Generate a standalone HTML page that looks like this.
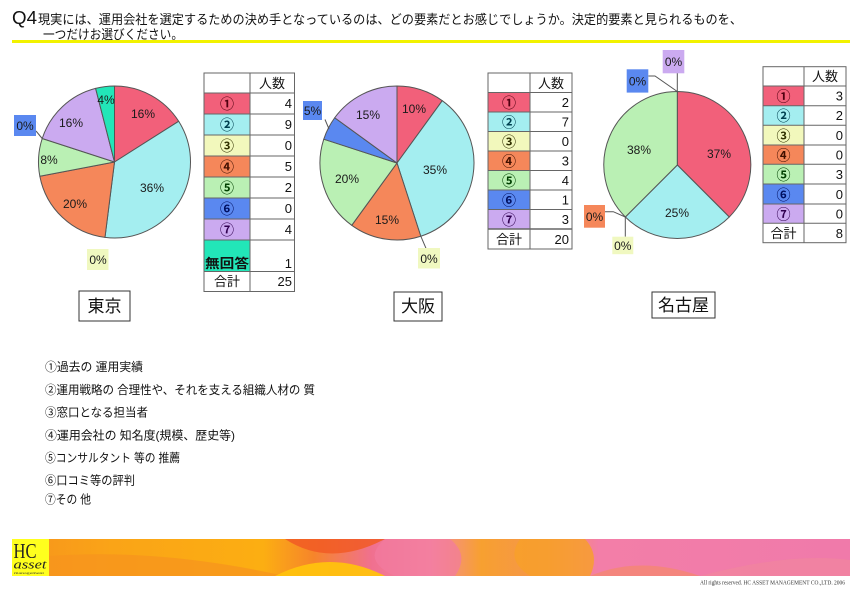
<!DOCTYPE html>
<html><head><meta charset="utf-8">
<style>
html,body{margin:0;padding:0;background:#fff;width:863px;height:598px;overflow:hidden;}
svg{display:block;}
text{font-family:"Liberation Sans","Noto Sans CJK JP",sans-serif;}
.jp{font-family:"Liberation Sans","Noto Sans CJK JP",sans-serif;}
.pct{font-size:12px;fill:#1a1a1a;text-anchor:middle;font-weight:500;}
.tb{font-size:13px;fill:#111;}
.num{font-size:13px;fill:#111;text-anchor:end;}
.cn{font-size:14px;text-anchor:middle;font-weight:bold;font-family:"Noto Sans CJK JP",sans-serif;}
.lg{font-size:12px;fill:#111;}
</style></head>
<body>
<svg width="863" height="598" viewBox="0 0 863 598" xmlns="http://www.w3.org/2000/svg">
<defs>
<linearGradient id="bn" x1="0" y1="0" x2="1" y2="0">
<stop offset="0" stop-color="#F7941D"/>
<stop offset="0.12" stop-color="#FAA417"/>
<stop offset="0.30" stop-color="#FCAE12"/>
<stop offset="0.36" stop-color="#F6852A"/>
<stop offset="0.43" stop-color="#F07090"/>
<stop offset="0.50" stop-color="#F48BA0"/>
<stop offset="0.56" stop-color="#F7A030"/>
<stop offset="0.64" stop-color="#F6944E"/>
<stop offset="0.70" stop-color="#F37EA8"/>
<stop offset="1" stop-color="#F07AAA"/>
</linearGradient>
</defs>

<!-- Title -->
<text x="12" y="24" style="font-size:18px;fill:#111;" textLength="25" lengthAdjust="spacingAndGlyphs">Q4</text>
<text x="38" y="24" class="jp" style="font-size:13px;fill:#111;" textLength="704" lengthAdjust="spacingAndGlyphs">現実には、運用会社を選定するための決め手となっているのは、どの要素だとお感じでしょうか。決定的要素と見られるものを、</text>
<text x="43" y="39" class="jp" style="font-size:13px;fill:#111;" textLength="140" lengthAdjust="spacingAndGlyphs">一つだけお選びください。</text>
<rect x="12" y="40" width="838" height="3" fill="#F2F200"/>

<!-- Tokyo pie -->
<g stroke="#555" stroke-width="1" stroke-linejoin="round">
<path d="M114.5,162 L114.5,86 A76,76 0 0 1 178.67,121.28 Z" fill="#F2607A"/>
<path d="M114.5,162 L178.67,121.28 A76,76 0 0 1 104.97,237.40 Z" fill="#A4EEF0"/>
<path d="M114.5,162 L104.97,237.40 A76,76 0 0 1 39.84,176.24 Z" fill="#F5875A"/>
<path d="M114.5,162 L39.84,176.24 A76,76 0 0 1 42.22,138.52 Z" fill="#BAF0B4"/>
<path d="M114.5,162 L42.22,138.52 A76,76 0 0 1 95.60,88.39 Z" fill="#CBAAF0"/>
<path d="M114.5,162 L95.60,88.39 A76,76 0 0 1 114.5,86 Z" fill="#22E6B8"/>
</g>
<text class="pct" x="143" y="118">16%</text>
<text class="pct" x="152" y="192">36%</text>
<text class="pct" x="75" y="208">20%</text>
<text class="pct" x="49" y="164">8%</text>
<text class="pct" x="71" y="127">16%</text>
<text class="pct" x="106" y="104">4%</text>
<line x1="36" y1="131" x2="42.2" y2="138.5" stroke="#555"/>
<rect x="14" y="115" width="22" height="21" fill="#5A88F0"/>
<text class="pct" x="25" y="130">0%</text>
<rect x="87" y="249" width="21.5" height="21" fill="#F0F8C0"/>
<text class="pct" x="98" y="264">0%</text>

<!-- Tokyo table -->
<g>
<rect x="204" y="93" width="46" height="21" fill="#F2607A"/>
<rect x="204" y="114" width="46" height="21" fill="#A4EEF0"/>
<rect x="204" y="135" width="46" height="21" fill="#F2F8BC"/>
<rect x="204" y="156" width="46" height="21" fill="#F5875A"/>
<rect x="204" y="177" width="46" height="21" fill="#BAF0B4"/>
<rect x="204" y="198" width="46" height="21" fill="#5A88F0"/>
<rect x="204" y="219" width="46" height="21" fill="#CBAAF0"/>
<rect x="204" y="240" width="46" height="31.5" fill="#22E6B8"/>
<g stroke="#666" stroke-width="1" fill="none">
<rect x="204" y="73" width="90.5" height="218.5"/>
<line x1="250" y1="73" x2="250" y2="291.5"/>
<line x1="204" y1="93" x2="294.5" y2="93"/>
<line x1="204" y1="114" x2="294.5" y2="114"/>
<line x1="204" y1="135" x2="294.5" y2="135"/>
<line x1="204" y1="156" x2="294.5" y2="156"/>
<line x1="204" y1="177" x2="294.5" y2="177"/>
<line x1="204" y1="198" x2="294.5" y2="198"/>
<line x1="204" y1="219" x2="294.5" y2="219"/>
<line x1="204" y1="240" x2="294.5" y2="240"/>
<line x1="204" y1="271.5" x2="294.5" y2="271.5"/>
</g>
<text class="tb" x="272" y="88" text-anchor="middle">人数</text>
<text class="cn" x="227" y="109" fill="#500010">①</text>
<text class="cn" x="227" y="130" fill="#004050">②</text>
<text class="cn" x="227" y="151" fill="#303000">③</text>
<text class="cn" x="227" y="172" fill="#401000">④</text>
<text class="cn" x="227" y="193" fill="#004000">⑤</text>
<text class="cn" x="227" y="214" fill="#001060">⑥</text>
<text class="cn" x="227" y="235" fill="#300050">⑦</text>
<text class="tb" x="227" y="268" fill="#005030" text-anchor="middle" font-weight="bold" textLength="44" lengthAdjust="spacingAndGlyphs">無回答</text>
<text class="tb" x="227" y="286" text-anchor="middle">合計</text>
<text class="num" x="292" y="108">4</text>
<text class="num" x="292" y="129">9</text>
<text class="num" x="292" y="150">0</text>
<text class="num" x="292" y="171">5</text>
<text class="num" x="292" y="192">2</text>
<text class="num" x="292" y="213">0</text>
<text class="num" x="292" y="234">4</text>
<text class="num" x="292" y="268">1</text>
<text class="num" x="292" y="286">25</text>
</g>
<rect x="79" y="291" width="51" height="30" fill="#fff" stroke="#333"/>
<text x="104.5" y="312" class="jp" style="font-size:17px;fill:#111;" text-anchor="middle">東京</text>

<!-- Osaka pie -->
<g stroke="#555" stroke-width="1" stroke-linejoin="round">
<path d="M397,163 L397,86 A77,77 0 0 1 442.26,100.71 Z" fill="#F2607A"/>
<path d="M397,163 L442.26,100.71 A77,77 0 0 1 420.79,236.23 Z" fill="#A4EEF0"/>
<path d="M397,163 L420.79,236.23 A77,77 0 0 1 351.74,225.29 Z" fill="#F5875A"/>
<path d="M397,163 L351.74,225.29 A77,77 0 0 1 323.77,139.21 Z" fill="#BAF0B4"/>
<path d="M397,163 L323.77,139.21 A77,77 0 0 1 334.71,117.74 Z" fill="#5A88F0"/>
<path d="M397,163 L334.71,117.74 A77,77 0 0 1 397,86 Z" fill="#CBAAF0"/>
</g>
<text class="pct" x="414" y="113">10%</text>
<text class="pct" x="435" y="174">35%</text>
<text class="pct" x="387" y="224">15%</text>
<text class="pct" x="347" y="183">20%</text>
<text class="pct" x="368" y="119">15%</text>
<line x1="325" y1="119.5" x2="329" y2="129" stroke="#555"/>
<rect x="303" y="101" width="19" height="19" fill="#5A88F0"/>
<text class="pct" x="312.5" y="115">5%</text>
<line x1="420.8" y1="236.2" x2="426" y2="248.3" stroke="#555"/>
<rect x="418" y="248" width="22" height="20.5" fill="#F0F8C0"/>
<text class="pct" x="429" y="263">0%</text>

<!-- Osaka table -->
<g>
<rect x="488" y="92.5" width="42" height="19.5" fill="#F2607A"/>
<rect x="488" y="112" width="42" height="19.5" fill="#A4EEF0"/>
<rect x="488" y="131.5" width="42" height="19.5" fill="#F2F8BC"/>
<rect x="488" y="151" width="42" height="19.5" fill="#F5875A"/>
<rect x="488" y="170.5" width="42" height="19.5" fill="#BAF0B4"/>
<rect x="488" y="190" width="42" height="19.5" fill="#5A88F0"/>
<rect x="488" y="209.5" width="42" height="19.5" fill="#CBAAF0"/>
<g stroke="#666" stroke-width="1" fill="none">
<rect x="488" y="73" width="84" height="176"/>
<line x1="530" y1="73" x2="530" y2="249"/>
<line x1="488" y1="92.5" x2="572" y2="92.5"/>
<line x1="488" y1="112" x2="572" y2="112"/>
<line x1="488" y1="131.5" x2="572" y2="131.5"/>
<line x1="488" y1="151" x2="572" y2="151"/>
<line x1="488" y1="170.5" x2="572" y2="170.5"/>
<line x1="488" y1="190" x2="572" y2="190"/>
<line x1="488" y1="209.5" x2="572" y2="209.5"/>
<line x1="488" y1="229" x2="572" y2="229" stroke-width="1.5"/>
</g>
<text class="tb" x="551" y="88" text-anchor="middle">人数</text>
<text class="cn" x="509" y="108" fill="#500010">①</text>
<text class="cn" x="509" y="127.5" fill="#004050">②</text>
<text class="cn" x="509" y="147" fill="#303000">③</text>
<text class="cn" x="509" y="166.5" fill="#401000">④</text>
<text class="cn" x="509" y="186" fill="#004000">⑤</text>
<text class="cn" x="509" y="205.5" fill="#001060">⑥</text>
<text class="cn" x="509" y="225" fill="#300050">⑦</text>
<text class="tb" x="509" y="244" text-anchor="middle">合計</text>
<text class="num" x="569" y="107">2</text>
<text class="num" x="569" y="126.5">7</text>
<text class="num" x="569" y="146">0</text>
<text class="num" x="569" y="165.5">3</text>
<text class="num" x="569" y="185">4</text>
<text class="num" x="569" y="204.5">1</text>
<text class="num" x="569" y="224">3</text>
<text class="num" x="569" y="244">20</text>
</g>
<rect x="394" y="292" width="48" height="29" fill="#fff" stroke="#333"/>
<text x="418" y="312" class="jp" style="font-size:17px;fill:#111;" text-anchor="middle">大阪</text>

<!-- Nagoya pie -->
<g stroke="#555" stroke-width="1" stroke-linejoin="round">
<path d="M677.3,165 L677.3,91.5 A73.5,73.5 0 0 1 729.27,216.97 Z" fill="#F2607A"/>
<path d="M677.3,165 L729.27,216.97 A73.5,73.5 0 0 1 625.33,216.97 Z" fill="#A4EEF0"/>
<path d="M677.3,165 L625.33,216.97 A73.5,73.5 0 0 1 677.3,91.5 Z" fill="#BAF0B4"/>
</g>
<text class="pct" x="719" y="158">37%</text>
<text class="pct" x="677" y="217">25%</text>
<text class="pct" x="639" y="154">38%</text>
<g stroke="#555" stroke-width="1" fill="none">
<line x1="677.3" y1="73" x2="677.3" y2="91.5"/>
<polyline points="648.3,76 655,76 677.3,91.5"/>
<polyline points="605,211.7 613.3,211.7 625.3,217"/>
<line x1="625.3" y1="217" x2="625.3" y2="236.7"/>
</g>
<rect x="662.7" y="50" width="21.6" height="23.3" fill="#CBAAF0"/>
<text class="pct" x="673.5" y="66">0%</text>
<rect x="626.7" y="69.3" width="21.6" height="23.3" fill="#5A88F0"/>
<text class="pct" x="637.5" y="85.5">0%</text>
<rect x="584" y="205" width="21" height="22.7" fill="#F5875A"/>
<text class="pct" x="594.5" y="221">0%</text>
<rect x="612.3" y="236.7" width="21" height="17.5" fill="#F0F8C0"/>
<text class="pct" x="622.8" y="250">0%</text>

<!-- Nagoya table -->
<g>
<rect x="763" y="86" width="41" height="19.7" fill="#F2607A"/>
<rect x="763" y="105.7" width="41" height="19.6" fill="#A4EEF0"/>
<rect x="763" y="125.3" width="41" height="19.7" fill="#F2F8BC"/>
<rect x="763" y="145" width="41" height="19.3" fill="#F5875A"/>
<rect x="763" y="164.3" width="41" height="19.7" fill="#BAF0B4"/>
<rect x="763" y="184" width="41" height="20" fill="#5A88F0"/>
<rect x="763" y="204" width="41" height="19.3" fill="#CBAAF0"/>
<g stroke="#666" stroke-width="1" fill="none">
<rect x="763" y="66.7" width="83" height="176"/>
<line x1="804" y1="66.7" x2="804" y2="242.7"/>
<line x1="763" y1="86" x2="846" y2="86"/>
<line x1="763" y1="105.7" x2="846" y2="105.7"/>
<line x1="763" y1="125.3" x2="846" y2="125.3"/>
<line x1="763" y1="145" x2="846" y2="145"/>
<line x1="763" y1="164.3" x2="846" y2="164.3"/>
<line x1="763" y1="184" x2="846" y2="184"/>
<line x1="763" y1="204" x2="846" y2="204"/>
<line x1="763" y1="223.3" x2="846" y2="223.3"/>
</g>
<text class="tb" x="825" y="81" text-anchor="middle">人数</text>
<text class="cn" x="783.5" y="101.5" fill="#500010">①</text>
<text class="cn" x="783.5" y="121" fill="#004050">②</text>
<text class="cn" x="783.5" y="141" fill="#303000">③</text>
<text class="cn" x="783.5" y="160.5" fill="#401000">④</text>
<text class="cn" x="783.5" y="180" fill="#004000">⑤</text>
<text class="cn" x="783.5" y="200" fill="#001060">⑥</text>
<text class="cn" x="783.5" y="219.5" fill="#300050">⑦</text>
<text class="tb" x="783.5" y="238" text-anchor="middle">合計</text>
<text class="num" x="843" y="100.5">3</text>
<text class="num" x="843" y="120">2</text>
<text class="num" x="843" y="140">0</text>
<text class="num" x="843" y="159.5">0</text>
<text class="num" x="843" y="179">3</text>
<text class="num" x="843" y="199">0</text>
<text class="num" x="843" y="218.5">0</text>
<text class="num" x="843" y="238">8</text>
</g>
<rect x="652" y="292" width="63" height="26" fill="#fff" stroke="#333"/>
<text x="683.5" y="311" class="jp" style="font-size:17px;fill:#111;" text-anchor="middle">名古屋</text>

<!-- Legend -->
<text class="lg" x="45" y="371" textLength="98" lengthAdjust="spacingAndGlyphs">①過去の 運用実績</text>
<text class="lg" x="45" y="394" textLength="270" lengthAdjust="spacingAndGlyphs">②運用戦略の 合理性や、それを支える組織人材の 質</text>
<text class="lg" x="45" y="416.5" textLength="103" lengthAdjust="spacingAndGlyphs">③窓口となる担当者</text>
<text class="lg" x="45" y="439.5" textLength="190" lengthAdjust="spacingAndGlyphs">④運用会社の 知名度(規模、歴史等)</text>
<text class="lg" x="45" y="462" textLength="135" lengthAdjust="spacingAndGlyphs">⑤コンサルタント 等の 推薦</text>
<text class="lg" x="45" y="484.5" textLength="90" lengthAdjust="spacingAndGlyphs">⑥口コミ等の評判</text>
<text class="lg" x="45" y="503.5" textLength="46" lengthAdjust="spacingAndGlyphs">⑦その 他</text>

<!-- Banner -->
<rect x="12" y="539" width="838" height="37" fill="url(#bn)"/>
<path d="M49,556 Q160,548 285,576 L49,576 Z" fill="#F7941D" opacity="0.75"/>
<path d="M285,539 Q330,568 385,539 Z" fill="#F15A24" opacity="0.85"/>
<path d="M275,576 Q330,548 385,576 Z" fill="#FFC20E" opacity="0.95"/>
<path d="M385,539 Q360,560 395,576 L455,576 Q470,555 450,539 Z" fill="#F27AA0" opacity="0.7"/>
<path d="M520,539 Q505,560 530,576 L590,576 Q600,555 585,539 Z" fill="#F8A028" opacity="0.8"/>
<path d="M590,576 Q640,555 700,576 Z" fill="#F58A60" opacity="0.6"/>
<path d="M700,576 Q790,552 850,560 L850,576 Z" fill="#F28A9A" opacity="0.5"/>
<rect x="12" y="539" width="37" height="37" fill="#FFFF1E"/>
<text x="13.5" y="558" style="font-family:'Liberation Serif',serif;font-size:21px;fill:#222;" textLength="23" lengthAdjust="spacingAndGlyphs">HC</text>
<text x="13.5" y="568.5" style="font-family:'Liberation Serif',serif;font-size:13px;font-style:italic;fill:#222;" textLength="33" lengthAdjust="spacingAndGlyphs">asset</text>
<text x="14" y="574" style="font-family:'Liberation Serif',serif;font-size:3.5px;fill:#333;" textLength="30" lengthAdjust="spacingAndGlyphs">management</text>
<text x="700" y="584.5" style="font-family:'Liberation Serif',serif;font-size:6px;fill:#333;" textLength="145" lengthAdjust="spacingAndGlyphs">All rights reserved. HC ASSET MANAGEMENT CO.,LTD. 2006</text>
</svg>
</body></html>
